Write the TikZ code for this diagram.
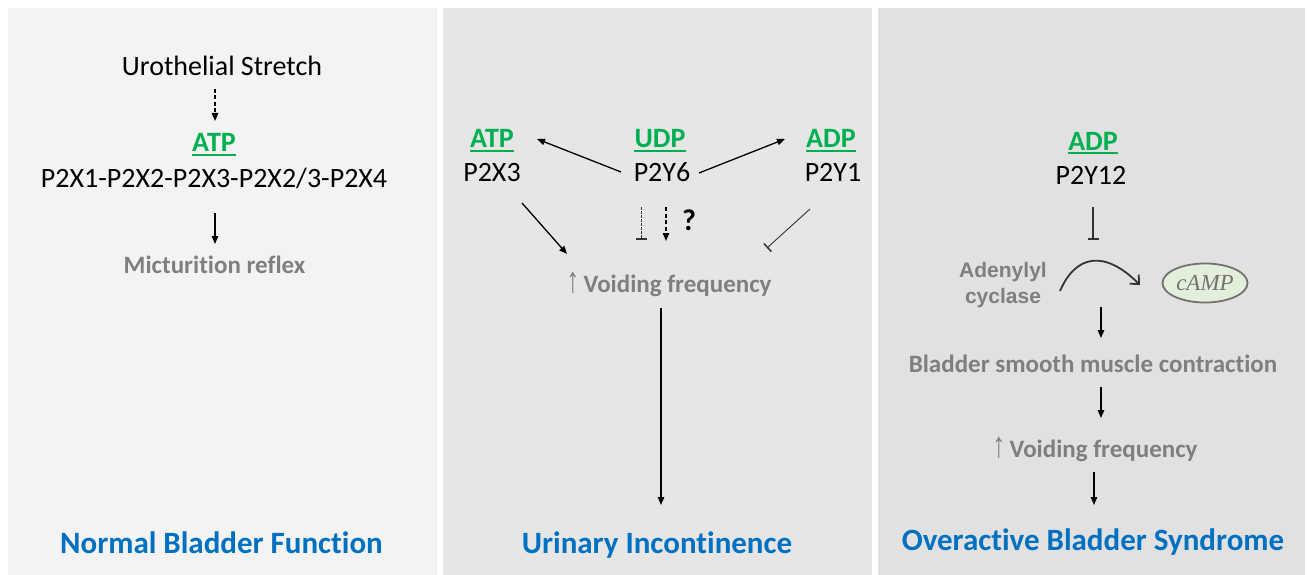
\documentclass[tikz,border=0pt]{standalone}
\usepackage{fontspec}
\setmainfont{Carlito}[Ligatures={NoCommon}]
\newfontfamily\arialfont{Liberation Sans}
\newfontfamily\timesfont{Liberation Serif}
\usetikzlibrary{arrows.meta,shapes.geometric}

\definecolor{panelA}{HTML}{F3F3F3}
\definecolor{panelB}{HTML}{E6E6E6}
\definecolor{panelC}{HTML}{E1E1E1}
\definecolor{ligand}{HTML}{00B050}
\definecolor{ttlblue}{HTML}{0070C0}
\definecolor{txtgray}{HTML}{7F7F7F}
\definecolor{ovalfill}{HTML}{E2EFDA}
\definecolor{ovalline}{HTML}{767171}
\definecolor{darkline}{HTML}{333333}

\tikzset{
  lbl/.style={font=\fontsize{28}{30}\selectfont, inner sep=0, anchor=base},
  lig/.style={font=\fontsize{28}{30}\selectfont\bfseries, text=ligand, inner sep=0, anchor=base},
  outc/.style={font=\fontsize{25}{28}\selectfont\bfseries, text=txtgray, inner sep=0, anchor=base},
  ttl/.style={font=\fontsize{31}{34}\selectfont\bfseries, text=ttlblue, inner sep=0, anchor=base},
  uline/.style={ligand, line width=2},
  act/.style={-{Triangle[length=8,width=6.5]}, line width=1.3},
  dact/.style={act, dash pattern=on 4pt off 2.5pt},
  inh/.style={-{Bar[width=11,line width=1.6]}, line width=1.1, darkline},
  dinh/.style={inh, dash pattern=on 2.5pt off 1.5pt, line width=1},
  thininh/.style={-{Bar[width=11,line width=1.5]}, line width=0.9, darkline},
}

% a tall, thin upward arrow set before the outcome text
\newcommand{\upar}{\scalebox{1}[1.4]{\arialfont\mdseries\fontsize{26}{28}\selectfont\char"2191}}

\begin{document}
\begin{tikzpicture}[x=1pt,y=-1pt]
\useasboundingbox (0,0) rectangle (1307,575);
\fill[white] (0,0) rectangle (1307,575);

% three panels
\fill[panelA] (8,8) rectangle (437,575);
\fill[panelB] (443,8) rectangle (872,575);
\fill[panelC] (878,8) rectangle (1305,575);

% ---------- normal bladder function ----------
\node[lbl] (stretch) at (222,76) {Urothelial Stretch};
\node[lig] (atpA) at (214,152) {ATP};
\draw[uline] ([yshift=-3pt]atpA.base west) -- ([yshift=-3pt]atpA.base east);
\node[lbl] (p2x) at (214,187) {P2X1-P2X2-P2X3-P2X2/3-P2X4};
\node[outc] (mict) at (214.5,273) {Micturition reflex};
\coordinate (s1) at (215,89);
\coordinate (s2) at (215,121);
\draw[dact] (s1) -- (s2);
\coordinate (m1) at (215,213);
\coordinate (m2) at (215,244);
\draw[act] (m1) -- (m2);
\node[ttl] (tA) at (221.5,553) {Normal Bladder Function};

% ---------- urinary incontinence ----------
\node[lig] (atpB) at (492,148) {ATP};
\draw[uline] ([yshift=-3pt]atpB.base west) -- ([yshift=-3pt]atpB.base east);
\node[lbl] (p2x3) at (492,182) {P2X3};
\node[lig] (udp) at (660,148) {UDP};
\draw[uline] ([yshift=-3pt]udp.base west) -- ([yshift=-3pt]udp.base east);
\node[lbl] (p2y6) at (662,182) {P2Y6};
\node[lig] (adpB) at (831,148) {ADP};
\draw[uline] ([yshift=-3pt]adpB.base west) -- ([yshift=-3pt]adpB.base east);
\node[lbl] (p2y1) at (833,182) {P2Y1};
\node[outc] (voidB) at (669,292) {\upar\,Voiding frequency};
\node[ttl] (tB) at (657,553) {Urinary Incontinence};

\coordinate (y6l) at (621,172);
\coordinate (atpBt) at (537,139);
\draw[act] (y6l) -- (atpBt);
\coordinate (y6r) at (699,173);
\coordinate (adpBt) at (785,139);
\draw[act] (y6r) -- (adpBt);
\coordinate (x3s) at (522,203);
\coordinate (x3e) at (567,254);
\draw[act] (x3s) -- (x3e);
\coordinate (y1s) at (810,209);
\coordinate (y1e) at (767,248);
\draw[thininh] (y1s) -- (y1e);
\coordinate (q1s) at (641,207);
\coordinate (q1e) at (641,240);
\draw[dinh] (q1s) -- (q1e);
\coordinate (q2s) at (666,207);
\coordinate (q2e) at (666,241);
\draw[dact] (q2s) -- (q2e);
\node[font=\fontsize{30}{32}\selectfont\bfseries, inner sep=0, anchor=base] (qm) at (689,230) {?};
\coordinate (vb1) at (661,308);
\coordinate (vb2) at (661,505);
\draw[act] (vb1) -- (vb2);

% ---------- overactive bladder syndrome ----------
\node[lig] (adpC) at (1093,150) {ADP};
\draw[uline] ([yshift=-3pt]adpC.base west) -- ([yshift=-3pt]adpC.base east);
\node[lbl] (p2y12) at (1091,185) {P2Y12};
\node[font=\arialfont\fontsize{21}{26}\selectfont\bfseries, text=txtgray, align=center, inner sep=0]
  (ac) at (1003,285) {Adenylyl\\cyclase};
\node[ellipse, draw=ovalline, line width=1.8, fill=ovalfill, minimum width=85, minimum height=39, inner sep=0,
  font=\timesfont\itshape\fontsize{23}{24}\selectfont, text=ovalline] (camp) at (1205,283) {cAMP};
\node[outc] (bsm) at (1093,372) {Bladder smooth muscle contraction};
\node[outc] (voidC) at (1095,457) {\upar\,Voiding frequency};
\node[ttl] (tC) at (1093,550) {Overactive Bladder Syndrome};

\coordinate (i1) at (1093,207);
\coordinate (i2) at (1093,240);
\draw[inh] (i1) -- (i2);
\coordinate (cs) at (1060,291);
\coordinate (ce) at (1140,285);
\draw[darkline, line width=1.8, -{Straight Barb[length=7,width=13,line width=1.8]}]
  (cs) .. controls (1076,254) and (1105,250) .. (ce);
\coordinate (a1) at (1101,307);
\coordinate (a2) at (1101,338);
\draw[act] (a1) -- (a2);
\coordinate (b1) at (1101,387);
\coordinate (b2) at (1101,418);
\draw[act] (b1) -- (b2);
\coordinate (c1) at (1094,472);
\coordinate (c2) at (1094,505);
\draw[act] (c1) -- (c2);
\end{tikzpicture}
\end{document}
